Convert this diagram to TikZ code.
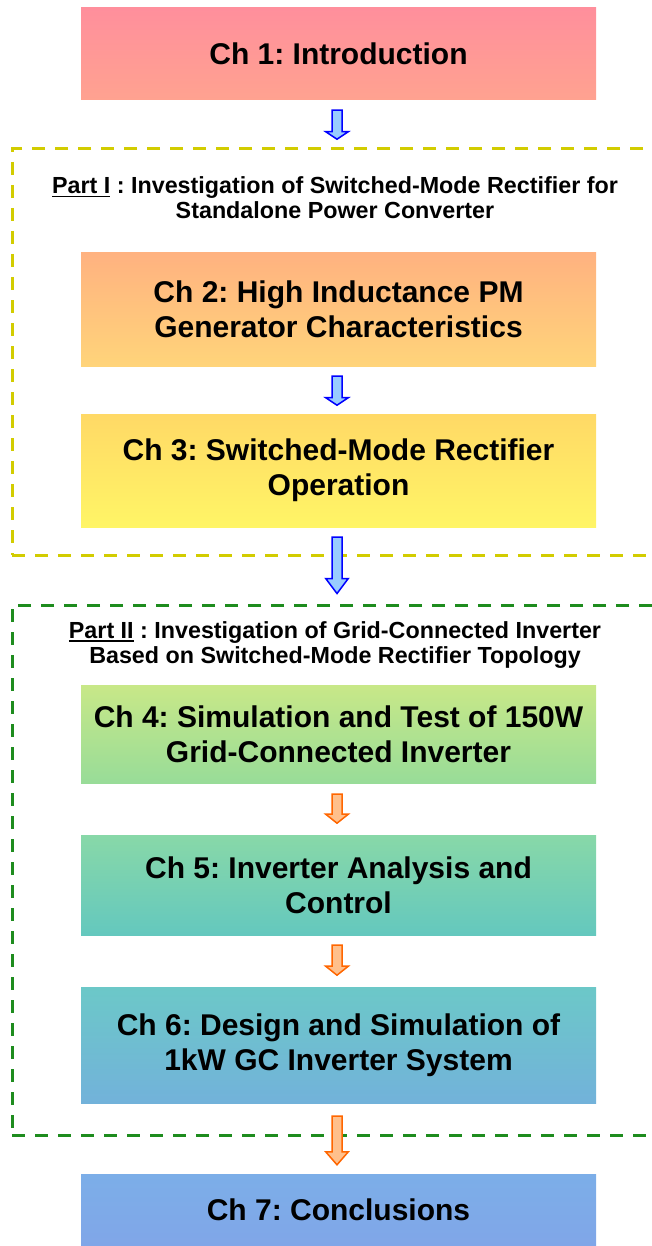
\documentclass[tikz,border=0pt]{standalone}
\usepackage{fontspec}
\setmainfont{Liberation Sans}
\usetikzlibrary{calc}
\frenchspacing
\definecolor{c1t}{HTML}{FF8F9C}\definecolor{c1b}{HTML}{FFA290}
\definecolor{c2t}{HTML}{FFB280}\definecolor{c2b}{HTML}{FFD47A}
\definecolor{c3t}{HTML}{FFD966}\definecolor{c3b}{HTML}{FFF566}
\definecolor{c4t}{HTML}{C8E888}\definecolor{c4b}{HTML}{98DC98}
\definecolor{c5t}{HTML}{88D8A8}\definecolor{c5b}{HTML}{64C8BE}
\definecolor{c6t}{HTML}{6CC8C8}\definecolor{c6b}{HTML}{72B2DA}
\definecolor{c7t}{HTML}{7CAEE8}\definecolor{c7b}{HTML}{80A6E8}
\definecolor{partone}{HTML}{D2CC00}
\definecolor{parttwo}{HTML}{1E8C1E}
\definecolor{bluefill}{HTML}{99CCFF}
\definecolor{blueline}{HTML}{0000FF}
\definecolor{orfill}{HTML}{FFC08C}
\definecolor{orline}{HTML}{FF6600}
\newcommand\myul[1]{\setbox0\hbox{#1}\rlap{\rule[-3.5pt]{\wd0}{1.8pt}}\box0\relax}
\newcommand\blockarrow[4]{% style, top, tip, head length
  \draw[#1] let \p1=#2, \p2=#3 in
    (\x1-5pt,\y1) -- (\x1+5pt,\y1) -- (\x1+5pt,\y2+#4) -- (\x1+11.3pt,\y2+#4)
    -- (\x1,\y2) -- (\x1-11.3pt,\y2+#4) -- (\x1-5pt,\y2+#4) -- cycle;}
\begin{document}
\begin{tikzpicture}[x=1pt,y=-1pt,
  chbox/.style={minimum width=515pt, inner sep=0pt, align=center,
    font=\fontsize{30}{35}\selectfont\bfseries, text=black},
  partframe/.style={minimum width=653pt, inner sep=0pt, line width=3pt,
    dash pattern=on 13pt off 10pt},
  parttext/.style={align=center, inner sep=0pt,
    font=\fontsize{23.3}{25}\selectfont\bfseries},
  bluearrow/.style={fill=bluefill, draw=blueline, line width=1.5pt, line join=miter},
  orarrow/.style={fill=orfill, draw=orline, line width=1.5pt, line join=miter}]
\useasboundingbox (0,0) rectangle (651,1246);
% frames
\node[partframe, draw=partone, minimum height=406pt] (p1) at (338.5,352) {};
\node[partframe, draw=parttwo, minimum height=530pt] (p2) at (338.5,870) {};
\node[parttext] (p1t) at (335,198) {\myul{Part I} : Investigation of Switched-Mode Rectifier for\\Standalone Power Converter};
\node[parttext] (p2t) at (335,645) {\myul{Part II} : Investigation of Grid-Connected Inverter\\Based on Switched-Mode Rectifier Topology};
% chapter boxes
\node[chbox, minimum height=92pt, top color=c1t, bottom color=c1b] (ch1) at (338.5,54) {Ch 1: Introduction};
\node[chbox, minimum height=113pt, top color=c2t, bottom color=c2b] (ch2) at (338.5,309.5) {Ch 2: High Inductance PM\\Generator Characteristics};
\node[chbox, minimum height=113pt, top color=c3t, bottom color=c3b] (ch3) at (338.5,470.5) {Ch 3: Switched-Mode Rectifier\\Operation};
\node[chbox, minimum height=98pt, top color=c4t, bottom color=c4b] (ch4) at (338.5,734) {Ch 4: Simulation and Test of 150W\\Grid-Connected Inverter};
\node[chbox, minimum height=100pt, top color=c5t, bottom color=c5b] (ch5) at (338.5,885) {Ch 5: Inverter Analysis and\\Control};
\node[chbox, minimum height=116pt, top color=c6t, bottom color=c6b] (ch6) at (338.5,1045) {Ch 6: Design and Simulation of\\1kW GC Inverter System};
\node[chbox, minimum height=72pt, top color=c7t, bottom color=c7b] (ch7) at (338.5,1210) {Ch 7: Conclusions};
% arrows
\blockarrow{bluearrow}{($(ch1.south)+(-1.5,10)$)}{($(ch1.south)+(-1.5,39)$)}{7.5pt}
\blockarrow{bluearrow}{($(ch2.south)+(-1.5,10)$)}{($(ch2.south)+(-1.5,39)$)}{7.5pt}
\blockarrow{bluearrow}{($(ch3.south)+(-1.5,10)$)}{($(p2.north)+(-1.5,-10)$)}{15pt}
\blockarrow{orarrow}{($(ch4.south)+(-1.5,11)$)}{($(ch4.south)+(-1.5,40)$)}{9pt}
\blockarrow{orarrow}{($(ch5.south)+(-1.5,10)$)}{($(ch5.south)+(-1.5,40)$)}{9pt}
\blockarrow{orarrow}{($(ch6.south)+(-1.5,13)$)}{($(ch7.north)+(-1.5,-9)$)}{13pt}
\end{tikzpicture}
\end{document}
